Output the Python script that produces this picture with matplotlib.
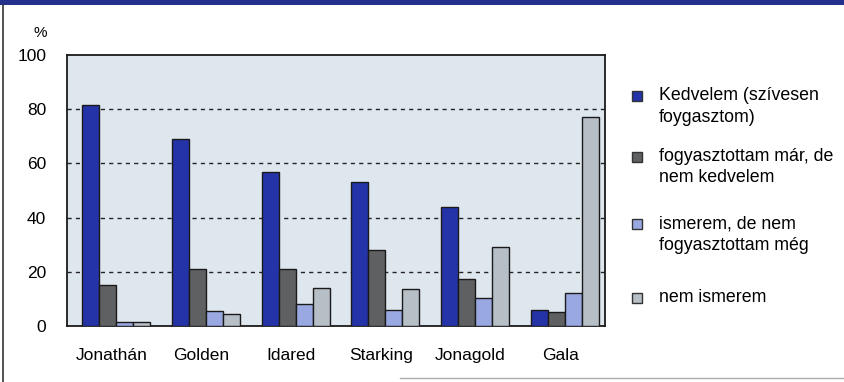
import matplotlib.pyplot as plt
import numpy as np
from matplotlib.patches import Rectangle
from matplotlib.lines import Line2D

categories = ["Jonathán", "Golden", "Idared", "Starking", "Jonagold", "Gala"]
kedvelem = [81.5, 69, 57, 53, 44, 6]
nem_kedvelem = [15, 21, 21, 28, 17.5, 5]
nem_fogyasztott = [1.5, 5.5, 8, 6, 10.5, 12]
nem_ismerem = [1.5, 4.5, 14, 13.5, 29, 77]
series_labels = [["Kedvelem (szívesen", "foygasztom)"],
                 ["fogyasztottam már, de", "nem kedvelem"],
                 ["ismerem, de nem", "fogyasztottam még"],
                 ["nem ismerem"]]
y_ticks = [0, 20, 40, 60, 80, 100]

colors = ["#2434a8", "#5e6062", "#9aa8e2", "#b6bec6"]
plt.rcParams['font.family'] = ['Liberation Sans', 'DejaVu Sans']

fig = plt.figure(figsize=(8.45, 3.82), dpi=100)
ax = fig.add_axes([67 / 845, 1 - 326 / 382, 538 / 845, 271 / 382])
ax.set_facecolor("#dfe7ee")

x = np.arange(len(categories))
w = 0.19
for i, vals in enumerate([kedvelem, nem_kedvelem, nem_fogyasztott, nem_ismerem]):
    ax.bar(x + 0.05 + (i - 1.5) * w, vals, width=w, color=colors[i],
           edgecolor="#1a1a1a", linewidth=1.0, zorder=3)

ax.set_xlim(-0.5, len(categories) - 0.5)
ax.set_ylim(0, 100)
ax.set_yticks(y_ticks)
ax.set_yticklabels([str(t) for t in y_ticks], fontsize=12.5)
ax.set_xticks(x)
ax.set_xticklabels(categories, fontsize=12.5)
ax.tick_params(axis='x', length=0, pad=16)
ax.tick_params(axis='y', length=0, pad=15)
for t in [20, 40, 60, 80]:
    ax.axhline(t, color="#222222", linestyle=(0, (3, 3)), linewidth=1.0, zorder=2)
for s in ax.spines.values():
    s.set_color("#1a1a1a")
    s.set_linewidth(1.3)

fig.text(40 / 845, 1 - 33 / 382, "%", fontsize=11, ha="center", va="center")

# legend: square plus one text line per row
leg_y = [96, 157, 224, 298]
line_step = 21
for lines, col, yy in zip(series_labels, colors, leg_y):
    fig.patches.append(Rectangle((632 / 845, 1 - (yy + 5) / 382), 10 / 845, 10 / 382,
                                 transform=fig.transFigure, facecolor=col,
                                 edgecolor="#333333", linewidth=1.0))
    for k, ln in enumerate(lines):
        fig.text(659 / 845, 1 - (yy + k * line_step) / 382, ln, fontsize=12.8,
                 ha="left", va="center")

# frame decoration
fig.patches.append(Rectangle((0, 1 - 5 / 382), 1, 5 / 382, transform=fig.transFigure,
                             facecolor="#23308e", edgecolor="none"))
fig.lines.append(Line2D([3 / 845, 3 / 845], [0, 1 - 5 / 382], transform=fig.transFigure,
                        color="#333333", linewidth=1.2))
fig.lines.append(Line2D([400 / 845, 1], [1 - 378 / 382, 1 - 378 / 382],
                        transform=fig.transFigure, color="#aaaaaa", linewidth=1.0))

fig.savefig("out.png", dpi=100)
